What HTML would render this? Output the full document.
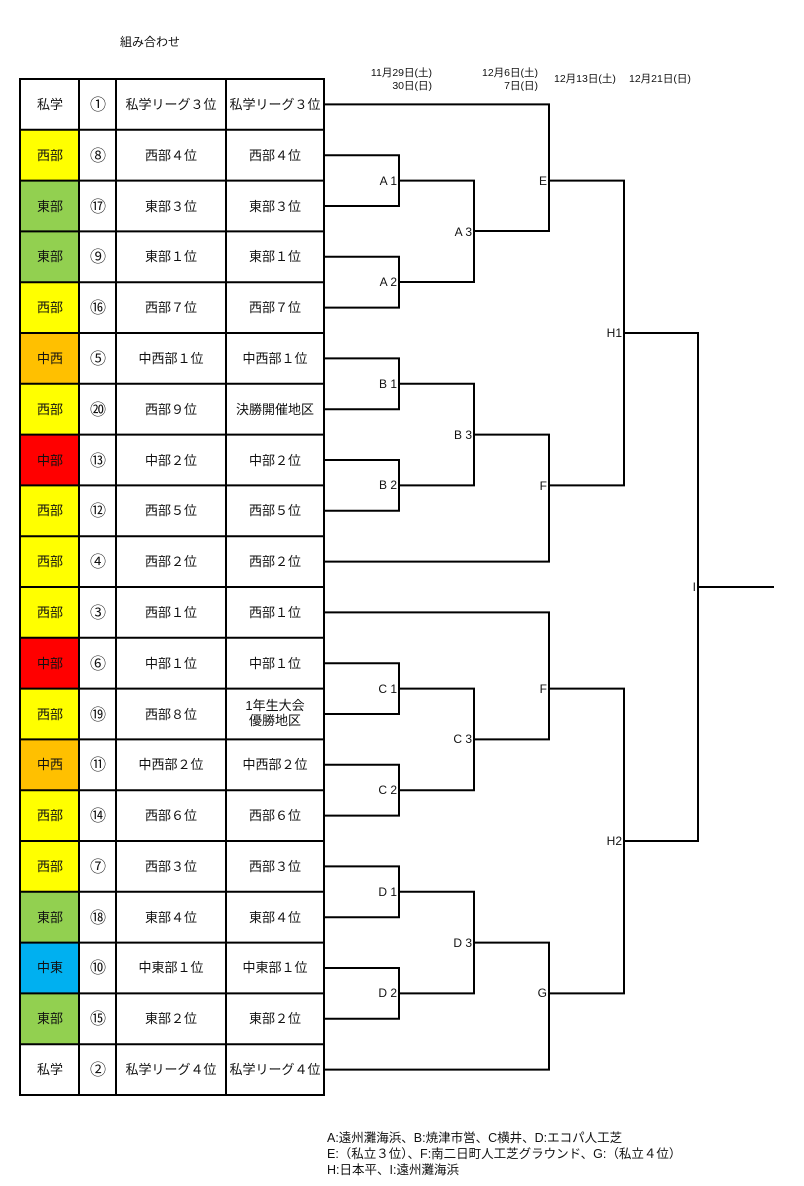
<!DOCTYPE html>
<html><head><meta charset="utf-8"><style>
html,body{margin:0;padding:0;background:#fff;}
svg{display:block;font-family:"Liberation Sans","Noto Sans CJK JP",sans-serif;}
</style></head><body>
<svg width="804" height="1186" viewBox="0 0 804 1186" xmlns="http://www.w3.org/2000/svg">
<text x="120" y="46" font-size="12" fill="#111">組み合わせ</text>
<g font-size="10.5" fill="#111">
<text x="432" y="76" text-anchor="end">11月29日(土)</text>
<text x="432" y="89" text-anchor="end">30日(日)</text>
<text x="538" y="76" text-anchor="end">12月6日(土)</text>
<text x="538" y="89" text-anchor="end">7日(日)</text>
<text x="554" y="82">12月13日(土)</text>
<text x="629" y="82">12月21日(日)</text>
</g>
<g id="fills">
<rect x="20" y="129.8" width="59" height="50.8" fill="#ffff00"/>
<rect x="20" y="180.6" width="59" height="101.6" fill="#92d050"/>
<rect x="20" y="282.2" width="59" height="50.8" fill="#ffff00"/>
<rect x="20" y="333" width="59" height="50.8" fill="#ffc000"/>
<rect x="20" y="383.8" width="59" height="50.8" fill="#ffff00"/>
<rect x="20" y="434.6" width="59" height="50.8" fill="#ff0000"/>
<rect x="20" y="485.4" width="59" height="152.4" fill="#ffff00"/>
<rect x="20" y="637.8" width="59" height="50.8" fill="#ff0000"/>
<rect x="20" y="688.6" width="59" height="50.8" fill="#ffff00"/>
<rect x="20" y="739.4" width="59" height="50.8" fill="#ffc000"/>
<rect x="20" y="790.2" width="59" height="101.6" fill="#ffff00"/>
<rect x="20" y="891.8" width="59" height="50.8" fill="#92d050"/>
<rect x="20" y="942.6" width="59" height="50.8" fill="#00b0f0"/>
<rect x="20" y="993.4" width="59" height="50.8" fill="#92d050"/>
</g>
<g stroke="#000" stroke-width="2" fill="none">
<rect x="20" y="79" width="304" height="1016"/>
<line x1="79" y1="79" x2="79" y2="1095"/>
<line x1="116" y1="79" x2="116" y2="1095"/>
<line x1="226" y1="79" x2="226" y2="1095"/>
<path d="M20 129.8H324M20 180.6H324M20 231.4H324M20 282.2H324M20 333H324M20 383.8H324M20 434.6H324M20 485.4H324M20 536.2H324M20 587H324M20 637.8H324M20 688.6H324M20 739.4H324M20 790.2H324M20 841H324M20 891.8H324M20 942.6H324M20 993.4H324M20 1044.2H324"/>
<path d="M324 104.4H549V231H474"/>
<path d="M324 155.2H399V206H324M399 180.6H474V282H399M324 256.8H399V307.6H324"/>
<path d="M549 180.6H624V485.4H549"/>
<path d="M324 358.4H399V409.2H324M399 383.8H474V485.4H399M324 460H399V510.8H324"/>
<path d="M474 434.6H549V561.6H324"/>
<path d="M624 333H698V841H624"/>
<path d="M698 587H774"/>
<path d="M324 612.4H549V739.4H474"/>
<path d="M324 663.2H399V714H324M399 688.6H474V790.2H399M324 764.8H399V815.6H324"/>
<path d="M549 688.6H624V993.4H549"/>
<path d="M324 866.4H399V917.2H324M399 891.8H474V993.4H399M324 968H399V1018.8H324"/>
<path d="M474 942.6H549V1069.6H324"/>
</g>
<g font-size="12" fill="#111" text-anchor="end">
<text x="397" y="185">A 1</text><text x="397" y="286">A 2</text><text x="472" y="236">A 3</text>
<text x="547" y="185">E</text>
<text x="397" y="388">B 1</text><text x="397" y="489">B 2</text><text x="472" y="439">B 3</text>
<text x="547" y="490">F</text>
<text x="622" y="337">H1</text>
<text x="696" y="591">I</text>
<text x="397" y="693">C 1</text><text x="397" y="794">C 2</text><text x="472" y="743">C 3</text>
<text x="547" y="693">F</text>
<text x="397" y="896">D 1</text><text x="397" y="997">D 2</text><text x="472" y="947">D 3</text>
<text x="547" y="997">G</text>
<text x="622" y="845">H2</text>
</g>
<g font-size="13" fill="#111" text-anchor="middle">
<text x="50" y="109">私学</text><text x="171" y="109">私学リーグ３位</text><text x="275" y="109">私学リーグ３位</text>
<text x="50" y="160">西部</text><text x="171" y="160">西部４位</text><text x="275" y="160">西部４位</text>
<text x="50" y="211">東部</text><text x="171" y="211">東部３位</text><text x="275" y="211">東部３位</text>
<text x="50" y="261">東部</text><text x="171" y="261">東部１位</text><text x="275" y="261">東部１位</text>
<text x="50" y="312">西部</text><text x="171" y="312">西部７位</text><text x="275" y="312">西部７位</text>
<text x="50" y="363">中西</text><text x="171" y="363">中西部１位</text><text x="275" y="363">中西部１位</text>
<text x="50" y="414">西部</text><text x="171" y="414">西部９位</text><text x="275" y="414">決勝開催地区</text>
<text x="50" y="465">中部</text><text x="171" y="465">中部２位</text><text x="275" y="465">中部２位</text>
<text x="50" y="515">西部</text><text x="171" y="515">西部５位</text><text x="275" y="515">西部５位</text>
<text x="50" y="566">西部</text><text x="171" y="566">西部２位</text><text x="275" y="566">西部２位</text>
<text x="50" y="617">西部</text><text x="171" y="617">西部１位</text><text x="275" y="617">西部１位</text>
<text x="50" y="668">中部</text><text x="171" y="668">中部１位</text><text x="275" y="668">中部１位</text>
<text x="50" y="719">西部</text><text x="171" y="719">西部８位</text><text x="275" y="710">1年生大会</text><text x="275" y="725">優勝地区</text>
<text x="50" y="769">中西</text><text x="171" y="769">中西部２位</text><text x="275" y="769">中西部２位</text>
<text x="50" y="820">西部</text><text x="171" y="820">西部６位</text><text x="275" y="820">西部６位</text>
<text x="50" y="871">西部</text><text x="171" y="871">西部３位</text><text x="275" y="871">西部３位</text>
<text x="50" y="922">東部</text><text x="171" y="922">東部４位</text><text x="275" y="922">東部４位</text>
<text x="50" y="972">中東</text><text x="171" y="972">中東部１位</text><text x="275" y="972">中東部１位</text>
<text x="50" y="1023">東部</text><text x="171" y="1023">東部２位</text><text x="275" y="1023">東部２位</text>
<text x="50" y="1074">私学</text><text x="171" y="1074">私学リーグ４位</text><text x="275" y="1074">私学リーグ４位</text>
</g>
<g font-size="16" fill="#111" text-anchor="middle" font-family="'Noto Sans CJK JP',sans-serif">
<text x="98" y="110">①</text><text x="98" y="161">⑧</text><text x="98" y="212">⑰</text><text x="98" y="262">⑨</text>
<text x="98" y="313">⑯</text><text x="98" y="364">⑤</text><text x="98" y="415">⑳</text><text x="98" y="466">⑬</text>
<text x="98" y="516">⑫</text><text x="98" y="567">④</text><text x="98" y="618">③</text><text x="98" y="669">⑥</text>
<text x="98" y="720">⑲</text><text x="98" y="770">⑪</text><text x="98" y="821">⑭</text><text x="98" y="872">⑦</text>
<text x="98" y="923">⑱</text><text x="98" y="973">⑩</text><text x="98" y="1024">⑮</text><text x="98" y="1075">②</text>
</g>
<g font-size="12.5" fill="#111">
<text x="327" y="1142">A:遠州灘海浜、B:焼津市営、C横井、D:エコパ人工芝</text>
<text x="327" y="1158">E:（私立３位）、F:南二日町人工芝グラウンド、G:（私立４位）</text>
<text x="327" y="1174">H:日本平、I:遠州灘海浜</text>
</g>
</svg>
</body></html>
